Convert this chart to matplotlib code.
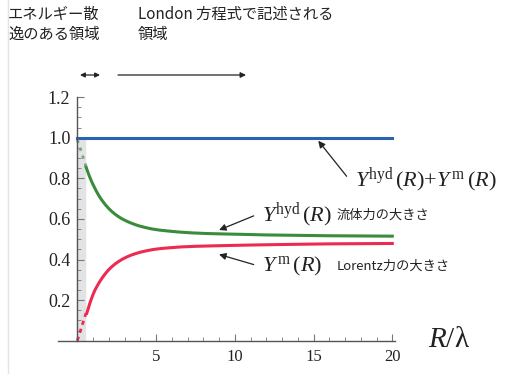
import numpy as np
import matplotlib.pyplot as plt
from matplotlib.lines import Line2D

plt.rcParams['mathtext.fontset'] = 'custom'
plt.rcParams['mathtext.rm'] = 'Liberation Serif'
plt.rcParams['mathtext.it'] = 'Liberation Serif:italic'
jp = ['Noto Sans CJK JP', 'DejaVu Sans']
serif = 'Liberation Serif'

# values
x_hyd = [0.55, 0.65, 0.75, 0.85, 0.95, 1.05, 1.2, 1.35, 1.5, 1.65, 1.8, 2.0, 2.2, 2.4, 2.6, 2.8, 3.05,
         3.3, 3.6, 3.9, 4.3, 4.7, 5.2, 5.8, 6.5, 7.3, 8.2, 9.2, 10.4, 12.0, 14.0, 16.0, 18.0, 20.0]
y_hyd = [0.857, 0.835, 0.814, 0.795, 0.777, 0.761, 0.738, 0.717, 0.699, 0.683, 0.668, 0.651, 0.636,
         0.623, 0.612, 0.602, 0.592, 0.583, 0.574, 0.566, 0.558, 0.551, 0.545, 0.540, 0.535, 0.531,
         0.528, 0.526, 0.524, 0.521, 0.519, 0.517, 0.516, 0.515]
x_m = [0.6, 0.7, 0.8, 0.9, 1.0, 1.12, 1.25, 1.4, 1.55, 1.7, 1.85, 2.0, 2.2, 2.4, 2.6, 2.85, 3.1,
       3.4, 3.7, 4.0, 4.4, 4.8, 5.3, 5.9, 6.6, 7.5, 8.5, 9.6, 10.8, 12.3, 14.0, 16.0, 18.0, 20.0]
y_m = [0.135, 0.16, 0.185, 0.207, 0.228, 0.249, 0.268, 0.288, 0.306, 0.322, 0.337, 0.350, 0.365,
       0.378, 0.389, 0.401, 0.411, 0.421, 0.429, 0.436, 0.443, 0.449, 0.454, 0.458, 0.462, 0.465,
       0.467, 0.469, 0.471, 0.473, 0.475, 0.477, 0.478, 0.479]
x_dot = [0.0, 0.55]
y_hyd_dot = [0.99, 0.86]
y_m_dot = [0.0, 0.135]
x_sum = [0.0, 20.0]
y_sum = [1.0, 1.0]
x_xticks = [5, 10, 15, 20]
y_yticks = [0.2, 0.4, 0.6, 0.8, 1.0, 1.2]

W, H = 505, 374
fig = plt.figure(figsize=(W / 100, H / 100), dpi=100)
x0, x1 = -1.2, 20.3
px_per_x = 15.75
left_px = 77.3 + x0 * px_per_x
ax = fig.add_axes([left_px / W, (H - 340.7) / H, (x1 - x0) * px_per_x / W, 243.6 / H])
ax.set_xlim(x0, x1)
ax.set_ylim(0, 1.2)

blue, green, red = '#2b63b0', '#3a8c3c', '#ee2a50'
ax.axvspan(0, 0.5, ymin=0, ymax=1.0 / 1.2, color='#e2e3e5', zorder=0)
ax.plot(x_sum, y_sum, color=blue, lw=2.2, clip_on=False)
ax.plot(x_hyd, y_hyd, color=green, lw=2.2, solid_joinstyle='round')
ax.plot(x_m, y_m, color=red, lw=2.2, solid_joinstyle='round')
ax.plot(x_dot, y_hyd_dot, color='#7aa77a', lw=2, ls=(0, (1.2, 1.8)))
ax.plot(x_dot, y_m_dot, color=red, lw=2, ls=(0, (1.5, 1.5)), clip_on=False)

for s in ['top', 'right']:
    ax.spines[s].set_visible(False)
ax.spines['left'].set_position(('data', 0))
ax.spines['left'].set_bounds(0, 1.2)
ax.spines['bottom'].set_bounds(x0, 20.15)
for s in ['left', 'bottom']:
    ax.spines[s].set_color('#555555')
    ax.spines[s].set_linewidth(1.0)

ax.set_xticks(x_xticks)
ax.set_xticklabels([str(v) for v in x_xticks], fontfamily=serif, fontsize=12)
ax.set_xticks(np.arange(1, 21), minor=True)
ax.set_yticks(y_yticks)
ax.set_yticklabels(['%.1f' % v for v in y_yticks], fontfamily=serif, fontsize=13)
ax.set_yticks(np.arange(0.05, 1.2, 0.05), minor=True)
ax.tick_params(which='both', direction='in', color='#777777', labelcolor='#222222')
ax.tick_params(which='major', length=5, width=0.8)
ax.tick_params(which='minor', length=3, width=0.6)
ax.tick_params(axis='y', pad=5)
ax.tick_params(axis='x', pad=6)

# annotations
fig.text(8 / W, 1 - 6 / H, 'エネルギー散\n逸のある領域', family=jp, fontsize=11,
         va='top', ha='left', linespacing=1.25, color='#222222')
fig.text(138 / W, 1 - 6 / H, 'London 方程式で記述される\n領域', family=jp, fontsize=11,
         va='top', ha='left', linespacing=1.25, color='#222222')
fig.add_artist(plt.Annotation('', xy=(100 / W, 1 - 75 / H), xytext=(80 / W, 1 - 75 / H),
                              xycoords='figure fraction',
                              arrowprops=dict(arrowstyle='<|-|>', color='#222222', lw=0.9,
                                              mutation_scale=7, shrinkA=0, shrinkB=0)))
fig.add_artist(plt.Annotation('', xy=(246 / W, 1 - 75 / H), xytext=(118 / W, 1 - 75 / H),
                              xycoords='figure fraction',
                              arrowprops=dict(arrowstyle='-|>', color='#222222', lw=0.9,
                                              mutation_scale=8, shrinkA=0, shrinkB=0)))

arrow = dict(arrowstyle='-|>', color='#222222', lw=0.9, mutation_scale=10, shrinkA=0, shrinkB=0)
ax.annotate('', xy=(15.3, 0.985), xytext=(17.1, 0.81), arrowprops=arrow)
ax.annotate('', xy=(9.0, 0.545), xytext=(11.2, 0.615), arrowprops=arrow)
ax.annotate('', xy=(9.0, 0.425), xytext=(11.2, 0.375), arrowprops=arrow)

fig.text(355 / W, 1 - 180 / H, r'$Y^{\mathrm{hyd}}\,(R){+}Y^{\,\mathrm{m}}\,(R)$', fontsize=16,
         va='center', ha='left', color='#222222')
fig.text(262 / W, 1 - 215 / H, r'$Y^{\mathrm{hyd}}\,(R)$', fontsize=16,
         va='center', ha='left', color='#222222')
fig.text(337 / W, 1 - 215 / H, '流体力の大きさ', family=jp, fontsize=9.5,
         va='center', ha='left', color='#222222')
fig.text(262 / W, 1 - 266 / H, r'$Y^{\,\mathrm{m}}\,(R)$', fontsize=16,
         va='center', ha='left', color='#222222')
fig.text(337 / W, 1 - 266 / H, 'Lorentz力の大きさ', family=jp, fontsize=9.5,
         va='center', ha='left', color='#222222')
fig.text(428 / W, 1 - 340 / H, r'$R/$λ', fontsize=21, family=serif,
         va='center', ha='left', color='#222222')

fig.add_artist(Line2D([8 / W, 8 / W], [0, 1], color='#e4e4e4', lw=1))

fig.savefig('out.png', dpi=100)
